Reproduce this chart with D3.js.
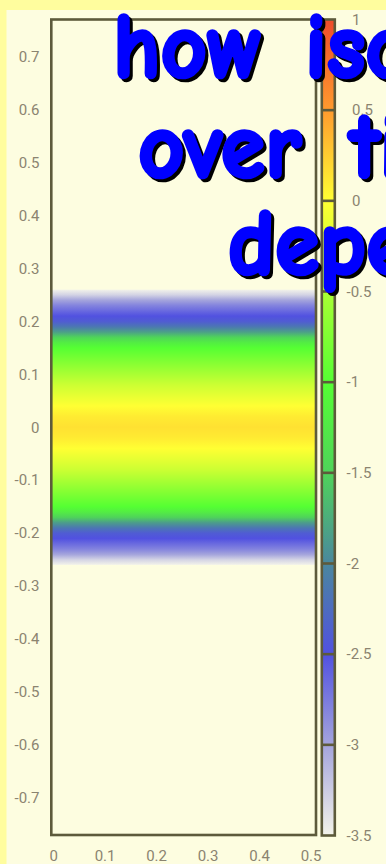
<!DOCTYPE html>
<html><head><meta charset="utf-8">
<script src="https://cdn.jsdelivr.net/npm/d3@7"></script>
<style>
html,body{margin:0;padding:0;background:#fffd9e;}
svg{display:block;}
</style></head>
<body>
<div id="chart"></div>
<script>
// ---------- data ----------
const titleLines = [
  ["how", "isotherms"],
  ["over", "time"],
  ["depends"]
];
const xTicks = [0, 0.1, 0.2, 0.3, 0.4, 0.5];
const yTicks = [0.7, 0.6, 0.5, 0.4, 0.3, 0.2, 0.1, 0, -0.1, -0.2, -0.3, -0.4, -0.5, -0.6, -0.7];
const cbTicks = [1, 0.5, 0, -0.5, -1, -1.5, -2, -2.5, -3, -3.5];
const colorStopValues = [-3.5, -3, -2.5, -2, -1.5, -1, -0.5, 0, 0.5, 1];
const colorStopColors = ["#f3f3ea", "#a4a4dc", "#5151e0", "#4a879e", "#4fd35a", "#55ff33", "#aaff33", "#ffff33", "#ff9a2e", "#ee4b2b"];
const xValues = [0, 0.5];
const bandY = [0.26, 0.25, 0.24, 0.23, 0.22, 0.21, 0.20, 0.19, 0.18, 0.17, 0.16, 0.15, 0.14, 0.12, 0.10, 0.08, 0.06, 0.04, 0.02, 0.00,
  -0.02, -0.04, -0.06, -0.08, -0.10, -0.12, -0.14, -0.15, -0.16, -0.17, -0.18, -0.19, -0.20, -0.21, -0.22, -0.23, -0.24, -0.25, -0.26];
const bandZ = [-3.5, -3.3, -3.0, -2.8, -2.65, -2.5, -2.4, -2.15, -1.85, -1.5, -1.2, -1.0, -0.9, -0.7, -0.5, -0.3, -0.15, 0.0, 0.1, 0.15,
  0.1, 0.0, -0.15, -0.3, -0.5, -0.7, -0.9, -1.0, -1.2, -1.5, -1.85, -2.15, -2.4, -2.5, -2.65, -2.8, -3.0, -3.3, -3.5];

// ---------- layout ----------
const W = 386, H = 864;
const plot = {left: 51.3, right: 316, top: 19.5, bottom: 835};
const cb = {left: 321.8, right: 334.8, top: 19.5, bottom: 835.5};
const frameColor = "#5d5a3b";
const tickColor = "#8b8470";

const svg = d3.select("#chart").append("svg").attr("width", W).attr("height", H);
svg.append("rect").attr("width", W).attr("height", H).attr("fill", "#fffd9e");
svg.append("rect").attr("x", 6.5).attr("y", 10).attr("width", W).attr("height", H).attr("fill", "#fdfde0");

const x = d3.scaleLinear().domain([-0.0045, 0.5095]).range([plot.left, plot.right]);
const y = d3.scaleLinear().domain([-0.77, 0.77]).range([plot.bottom, plot.top]);
const color = d3.scaleLinear().domain(colorStopValues).range(colorStopColors).interpolate(d3.interpolateRgb);
const yc = d3.scaleLinear().domain([-3.5, 1]).range([cb.bottom, cb.top]);

const defs = svg.append("defs");

// heatmap band gradient
const y1 = y(d3.max(bandY)), y2 = y(d3.min(bandY));
const hg = defs.append("linearGradient").attr("id", "heat")
  .attr("gradientUnits", "userSpaceOnUse").attr("x1", 0).attr("x2", 0).attr("y1", y1).attr("y2", y2);
bandY.forEach((v, i) => {
  hg.append("stop").attr("offset", (y(v) - y1) / (y2 - y1)).attr("stop-color", color(bandZ[i]));
});
svg.append("rect")
  .attr("x", x.range()[0]).attr("width", x.range()[1] - x.range()[0])
  .attr("y", y1).attr("height", y2 - y1).attr("fill", "url(#heat)");

// plot frame
svg.append("rect").attr("x", plot.left).attr("y", plot.top)
  .attr("width", plot.right - plot.left).attr("height", plot.bottom - plot.top)
  .attr("fill", "none").attr("stroke", frameColor).attr("stroke-width", 2.6);

// colorbar
const cg = defs.append("linearGradient").attr("id", "cbar")
  .attr("gradientUnits", "userSpaceOnUse").attr("x1", 0).attr("x2", 0).attr("y1", cb.bottom).attr("y2", cb.top);
colorStopValues.forEach((v, i) => {
  cg.append("stop").attr("offset", (cb.bottom - yc(v)) / (cb.bottom - cb.top)).attr("stop-color", colorStopColors[i]);
});
svg.append("rect").attr("x", cb.left).attr("y", cb.top).attr("width", cb.right - cb.left)
  .attr("height", cb.bottom - cb.top).attr("fill", "url(#cbar)");
svg.selectAll(".cbdiv").data(cbTicks.slice(1, -1)).enter().append("line")
  .attr("x1", cb.left).attr("x2", cb.right).attr("y1", d => yc(d)).attr("y2", d => yc(d))
  .attr("stroke", frameColor).attr("stroke-width", 2.6);
svg.append("rect").attr("x", cb.left).attr("y", cb.top).attr("width", cb.right - cb.left)
  .attr("height", cb.bottom - cb.top).attr("fill", "none").attr("stroke", frameColor).attr("stroke-width", 2.6);

const fmt = d => (d < 0 ? "-" : "") + String(Math.abs(d));
svg.selectAll(".cbt").data(cbTicks).enter().append("text")
  .attr("x", d => d < 0 ? 346.5 : 352).attr("y", d => yc(d)).attr("dy", "0.35em")
  .attr("font-family", "Roboto, sans-serif").attr("font-size", 15).attr("fill", tickColor)
  .text(fmt);

// y axis labels
svg.selectAll(".yt").data(yTicks).enter().append("text")
  .attr("x", 39.5).attr("y", d => y(d)).attr("dy", "0.35em").attr("text-anchor", "end")
  .attr("font-family", "Roboto, sans-serif").attr("font-size", 15).attr("fill", tickColor)
  .text(fmt);

// x axis labels
svg.selectAll(".xt").data(xTicks).enter().append("text")
  .attr("x", d => x(d)).attr("y", 856).attr("dy", "0.35em").attr("text-anchor", "middle")
  .attr("font-family", "Roboto, sans-serif").attr("font-size", 15).attr("fill", tickColor)
  .text(fmt);

// title
const wordX = [[113, 305], [138, 350], [228]];
const baseY = [77, 177, 274];
const tg = svg.append("g");
const fontSpec = {family: "'Comic Sans MS', 'Comic Neue', Lato, sans-serif", size: 84, weight: 900};
const probe = tg.append("text").attr("font-family", fontSpec.family).attr("font-size", fontSpec.size)
  .attr("font-weight", fontSpec.weight).text(titleLines[0][0]);
const sx = 150 / probe.node().getComputedTextLength();
probe.remove();
titleLines.forEach((words, li) => {
  words.forEach((w, wi) => {
    [[3, 3, "#000"], [0, 0, "#0000ff"]].forEach(([dx, dy, c]) => {
      tg.append("text")
        .attr("transform", `translate(${wordX[li][wi] + dx},${baseY[li] + dy}) scale(${sx},1.1)`)
        .attr("font-family", fontSpec.family).attr("font-size", fontSpec.size)
        .attr("font-weight", fontSpec.weight).attr("fill", c)
        .attr("stroke", c).attr("stroke-width", 3.4).attr("stroke-linejoin", "round")
        .text(w);
    });
  });
});
</script>
</body></html>
